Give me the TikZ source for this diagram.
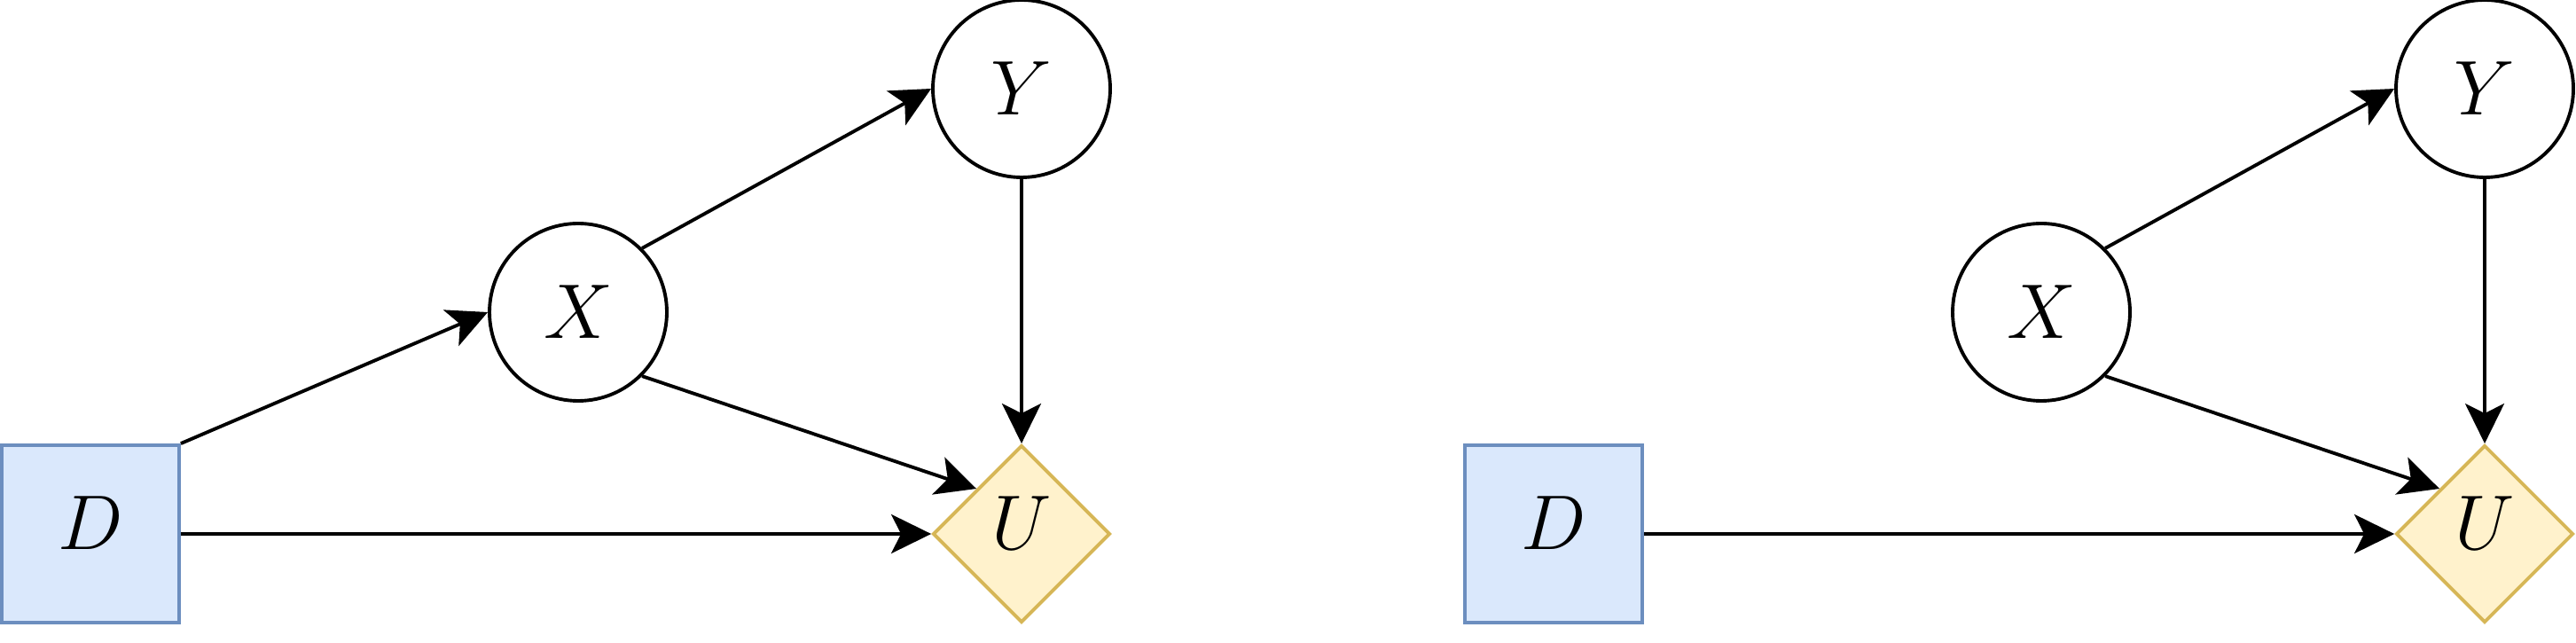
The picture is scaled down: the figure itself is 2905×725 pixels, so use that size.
\documentclass[tikz,border=0pt]{standalone}
\usetikzlibrary{arrows.meta,shapes.geometric}
\definecolor{dfill}{HTML}{DAE8FC}
\definecolor{ddraw}{HTML}{6C8EBF}
\definecolor{ufill}{HTML}{FFF2CC}
\definecolor{udraw}{HTML}{D6B656}
\begin{document}
\begin{tikzpicture}[x=0.1mm,y=-0.1mm,
  every node/.style={font=\fontsize{24.88}{30}\selectfont},
  decision/.style={rectangle, draw=ddraw, fill=dfill, line width=1.1pt, minimum size=2cm, inner sep=0pt},
  chance/.style={circle, draw=black, fill=white, line width=1.1pt, minimum size=2cm, inner sep=0pt},
  utility/.style={diamond, draw=udraw, fill=ufill, line width=1.1pt, minimum width=2cm, minimum height=2cm, inner sep=0pt},
  uplabel/.style={label={[yshift=1.2mm]center:#1}},
  edge/.style={line width=1.1pt, -{Stealth[length=4.5mm,width=4.4mm,inset=1.1mm]}}]
\useasboundingbox (0,0) rectangle (2905,725);
% left diagram
\node[decision, uplabel=$D$] (D1) at (102,602) {};
\node[chance] (X1) at (652,352) {$X$};
\node[chance] (Y1) at (1152,100) {$Y$};
\node[utility, uplabel=$U$] (U1) at (1152,602) {};
\draw[edge] (D1.north east) -- (X1.west);
\draw[edge] (X1.north east) -- (Y1.west);
\draw[edge] (X1.south east) -- (U1.135);
\draw[edge] (Y1) -- (U1);
\draw[edge] (D1) -- (U1);
% right diagram
\node[decision, uplabel=$D$] (D2) at (1752,602) {};
\node[chance] (X2) at (2302,352) {$X$};
\node[chance] (Y2) at (2802,100) {$Y$};
\node[utility, uplabel=$U$] (U2) at (2802,602) {};
\draw[edge] (X2.north east) -- (Y2.west);
\draw[edge] (X2.south east) -- (U2.135);
\draw[edge] (Y2) -- (U2);
\draw[edge] (D2) -- (U2);
\end{tikzpicture}
\end{document}
